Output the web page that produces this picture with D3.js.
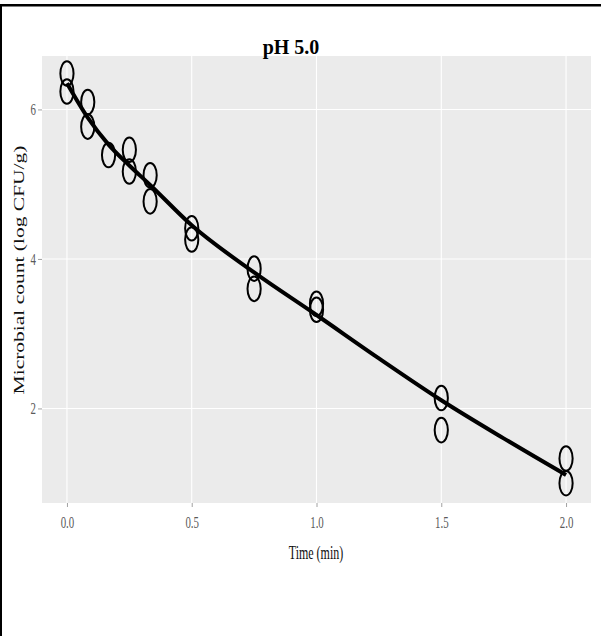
<!DOCTYPE html>
<html>
<head>
<meta charset="utf-8">
<style>
  body { margin: 0; background: #fff; }
  svg { display: block; }
</style>
</head>
<body>
<svg width="601" height="636"></svg>
<script src="https://cdn.jsdelivr.net/npm/d3@7/dist/d3.min.js"></script>
<script>

// observed counts (log CFU/g) at each sampling time (min)
var obsTime  = [0, 0, 0.0833, 0.0833, 0.1667, 0.25, 0.25, 0.3333, 0.3333, 0.5, 0.5, 0.75, 0.75, 1.0, 1.0, 1.5, 1.5, 2.0, 2.0];
var obsCount = [6.48, 6.24, 6.10, 5.77, 5.39, 5.46, 5.17, 5.12, 4.77, 4.41, 4.26, 3.87, 3.60, 3.40, 3.32, 2.14, 1.71, 1.33, 1.00];

// fitted curve
var fitTime  = [0, 0.0833, 0.1667, 0.25, 0.3333, 0.5, 0.75, 1.0, 1.25, 1.5, 1.75, 2.0];
var fitCount = [6.35, 5.89, 5.53, 5.25, 4.99, 4.45, 3.82, 3.25, 2.67, 2.11, 1.60, 1.11];

var xTicks = [0, 0.5, 1.0, 1.5, 2.0];
var yTicks = [2, 4, 6];

var titleText = "pH 5.0",
    xLabel = "Time (min)",
    yLabel = "Microbial count (log CFU/g)";

var svg = d3.select("svg"),
    panel = {left: 42, right: 591, top: 56, bottom: 503},
    squeeze = 0.63,
    serif = "'Liberation Serif', 'Times New Roman', serif";

var x = d3.scaleLinear()
    .domain([-0.1, 2.1])
    .range([panel.left, panel.right]);

var y = d3.scaleLinear()
    .domain([0.735, 6.715])
    .range([panel.bottom, panel.top]);

// outer frame lines (top and left only)
svg.append("rect")
    .attr("x", 0).attr("y", 4)
    .attr("width", 601).attr("height", 2.5)
    .attr("fill", "#000");
svg.append("rect")
    .attr("x", 0).attr("y", 4)
    .attr("width", 2).attr("height", 632)
    .attr("fill", "#000");

// panel background
svg.append("rect")
    .attr("x", panel.left)
    .attr("y", panel.top)
    .attr("width", panel.right - panel.left)
    .attr("height", panel.bottom - panel.top)
    .attr("fill", "#ebebeb");

// grid
svg.append("g").selectAll("line")
    .data(xTicks)
  .enter().append("line")
    .attr("x1", function(d) { return x(d); })
    .attr("x2", function(d) { return x(d); })
    .attr("y1", panel.top)
    .attr("y2", panel.bottom)
    .attr("stroke", "#fff")
    .attr("stroke-width", 1.1);

svg.append("g").selectAll("line")
    .data(yTicks)
  .enter().append("line")
    .attr("x1", panel.left)
    .attr("x2", panel.right)
    .attr("y1", function(d) { return y(d); })
    .attr("y2", function(d) { return y(d); })
    .attr("stroke", "#fff")
    .attr("stroke-width", 1.1);

// axes
var xAxis = svg.append("g")
    .attr("transform", "translate(0," + panel.bottom + ")")
    .call(d3.axisBottom(x).tickValues(xTicks).tickFormat(d3.format(".1f")).tickSize(4).tickPadding(10));

var yAxis = svg.append("g")
    .attr("transform", "translate(" + panel.left + ",0)")
    .call(d3.axisLeft(y).tickValues(yTicks).tickFormat(d3.format("d")).tickSize(4).tickPadding(2));

[xAxis, yAxis].forEach(function(ax) {
  ax.select(".domain").remove();
  ax.selectAll(".tick line").attr("stroke", "#8a8a8a").attr("stroke-width", 0.8);
  ax.selectAll(".tick text")
      .attr("font-family", serif)
      .attr("font-size", 16)
      .attr("fill", "#5a5a5a");
});
xAxis.selectAll(".tick text").attr("transform", "scale(0.68,1)");
yAxis.selectAll(".tick text")
    .attr("x", -6 / 0.68)
    .attr("transform", "scale(0.68,1)");

// fitted curve
var line = d3.line()
    .x(function(d, i) { return x(fitTime[i]); })
    .y(function(d) { return y(d); })
    .curve(d3.curveMonotoneX);

svg.append("path")
    .datum(fitCount)
    .attr("fill", "none")
    .attr("stroke", "#000")
    .attr("stroke-width", 4)
    .attr("stroke-linejoin", "round")
    .attr("d", line);

// observations (circles look squeezed horizontally)
svg.append("g").selectAll("ellipse")
    .data(obsCount)
  .enter().append("ellipse")
    .attr("cx", function(d, i) { return x(obsTime[i]); })
    .attr("cy", function(d) { return y(d); })
    .attr("rx", 6.6)
    .attr("ry", 12.3)
    .attr("fill", "none")
    .attr("stroke", "#000")
    .attr("stroke-width", 2);

// titles
svg.append("text")
    .attr("x", 291)
    .attr("y", 54)
    .attr("text-anchor", "middle")
    .attr("font-family", serif)
    .attr("font-weight", "bold")
    .attr("font-size", 20)
    .text(titleText);

svg.append("g")
    .attr("transform", "translate(316,559) scale(" + squeeze + ",1)")
  .append("text")
    .attr("text-anchor", "middle")
    .attr("font-family", serif)
    .attr("font-size", 19)
    .attr("fill", "#111")
    .text(xLabel);

svg.append("g")
    .attr("transform", "translate(24,270) rotate(-90) scale(1," + squeeze + ")")
  .append("text")
    .attr("text-anchor", "middle")
    .attr("font-family", serif)
    .attr("font-size", 21.5)
    .attr("fill", "#111")
    .text(yLabel);

</script>
</body>
</html>
